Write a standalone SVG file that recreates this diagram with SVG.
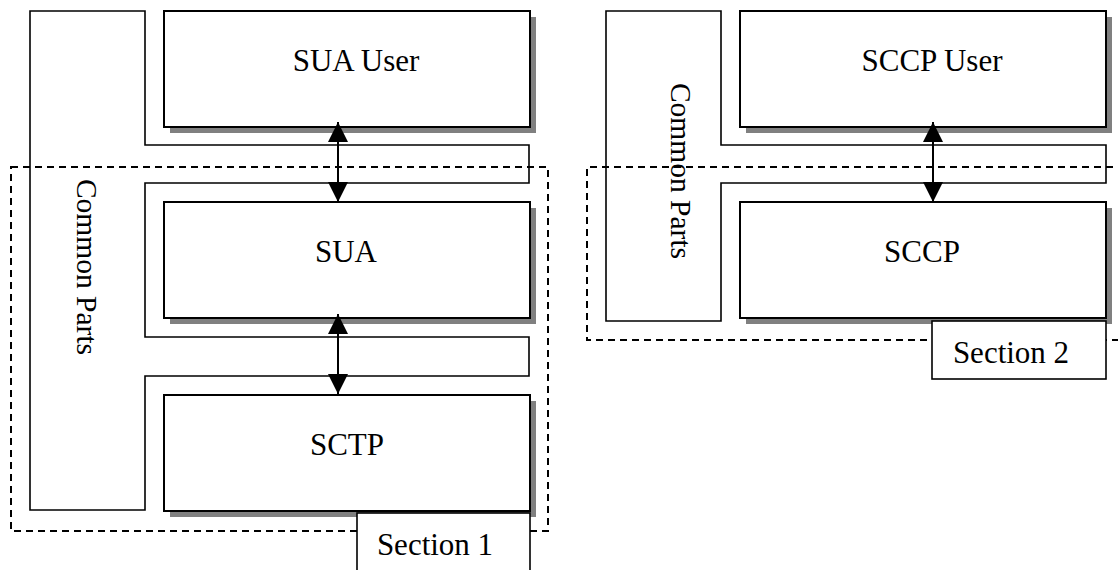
<svg xmlns="http://www.w3.org/2000/svg" width="1118" height="570" viewBox="0 0 1118 570">
<defs>
<style>
.common{fill:#fff;stroke:#000;stroke-width:1.6}
.box{fill:#fff;stroke:#000;stroke-width:2}
.shadow{fill:#808080;stroke:none}
.dash{fill:none;stroke:#000;stroke-width:2;stroke-dasharray:7 5}
.label{fill:#fff;stroke:#000;stroke-width:1.6}
.conn{stroke:#000;stroke-width:2;fill:none;marker-start:url(#ah);marker-end:url(#ah)}
text{font-family:"Liberation Serif","Times New Roman",serif;font-size:31px;fill:#000}
.rot{font-size:29.5px}
</style>
<marker id="ah" viewBox="0 0 20 20" refX="20" refY="10" markerWidth="20" markerHeight="20" markerUnits="userSpaceOnUse" orient="auto-start-reverse">
<path d="M0,0 L20,10 L0,20 Z" fill="#000"/>
</marker>
</defs>
<rect width="1118" height="570" fill="#fff"/>

<g id="common1">
<path class="common" d="M30,11 H145 V145 H529 V183 H145 V337 H529 V376 H145 V510 H30 Z"/>
<text class="rot" transform="translate(77,267) rotate(90)" text-anchor="middle">Common Parts</text>
</g>
<g id="sua-user">
<rect class="shadow" x="170" y="17" width="366" height="116"/>
<rect class="box" x="164" y="11" width="366" height="116"/>
<text x="356" y="71" text-anchor="middle">SUA User</text>
</g>
<g id="sua">
<rect class="shadow" x="170" y="208" width="366" height="116"/>
<rect class="box" x="164" y="202" width="366" height="116"/>
<text x="346" y="262" text-anchor="middle">SUA</text>
</g>
<g id="sctp">
<rect class="shadow" x="170" y="401" width="366" height="116"/>
<rect class="box" x="164" y="395" width="366" height="116"/>
<text x="347" y="455" text-anchor="middle">SCTP</text>
</g>

<g id="common2">
<path class="common" d="M606,11 H721 V145 H1106 V183 H721 V321 H606 Z"/>
<text class="rot" transform="translate(671,171) rotate(90)" text-anchor="middle">Common Parts</text>
</g>
<g id="sccp-user">
<rect class="shadow" x="746" y="17" width="366" height="116"/>
<rect class="box" x="740" y="11" width="366" height="116"/>
<text x="932" y="71" text-anchor="middle">SCCP User</text>
</g>
<g id="sccp">
<rect class="shadow" x="746" y="208" width="366" height="116"/>
<rect class="box" x="740" y="202" width="366" height="116"/>
<text x="922" y="262" text-anchor="middle">SCCP</text>
</g>

<g id="connectors">
<line class="conn" x1="338" y1="122" x2="338" y2="202"/>
<line class="conn" x1="338" y1="314" x2="338" y2="394"/>
<line class="conn" x1="933" y1="122" x2="933" y2="202"/>
</g>

<g id="section1">
<rect class="dash" x="11" y="167" width="537" height="364"/>
<rect class="label" x="357" y="513" width="173" height="62"/>
<text x="435" y="555" text-anchor="middle">Section 1</text>
</g>
<g id="section2">
<path class="dash" d="M1125,167 H587 V340 H1125"/>
<rect class="label" x="932" y="321" width="174" height="58"/>
<text x="1011" y="363" text-anchor="middle">Section 2</text>
</g>
</svg>
